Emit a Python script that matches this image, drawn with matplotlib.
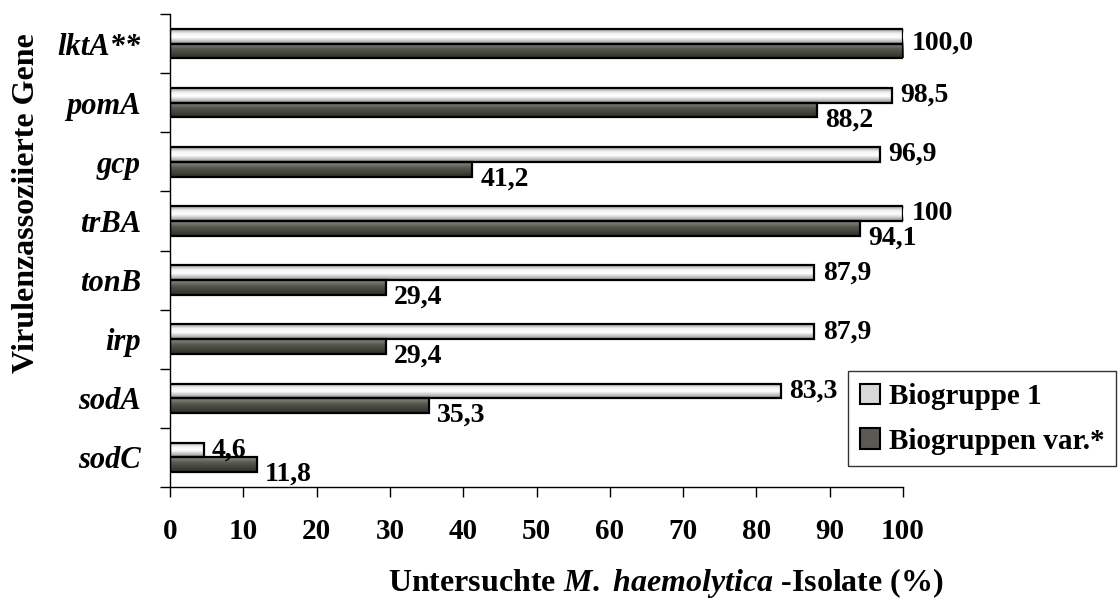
import numpy as np
import matplotlib
matplotlib.use('Agg')
import matplotlib.pyplot as plt
from matplotlib.colors import LinearSegmentedColormap
from matplotlib.patches import Patch
from matplotlib.transforms import offset_copy

# Gene prevalence per biogroup (top to bottom)
genes = ['lktA**', 'pomA', 'gcp', 'trBA', 'tonB', 'irp', 'sodA', 'sodC']
biogroup1 = [100.0, 98.5, 96.9, 100.0, 87.9, 87.9, 83.3, 4.6]
biogroup_var = [100.0, 88.2, 41.2, 94.1, 29.4, 29.4, 35.3, 11.8]
labels1 = ['100,0', '98,5', '96,9', '100', '87,9', '87,9', '83,3', '4,6']
labels_var = ['', '88,2', '41,2', '94,1', '29,4', '29,4', '35,3', '11,8']
xticks = list(range(0, 101, 10))

plt.rcParams['font.family'] = 'Liberation Serif'
plt.rcParams['font.weight'] = 'bold'
plt.rcParams['mathtext.fontset'] = 'custom'
plt.rcParams['mathtext.it'] = 'Liberation Serif:italic:bold'
plt.rcParams['mathtext.rm'] = 'Liberation Serif:bold'

fig = plt.figure(figsize=(11.2, 6.04), dpi=100)
ax = fig.add_axes([0.1518, 0.1937, 0.6545, 0.7831])

n = len(genes)
ypos = np.arange(n)[::-1]
h = 0.25

bars1 = ax.barh(ypos + h / 2, biogroup1, height=h, facecolor='none',
                edgecolor='black', linewidth=1.6, zorder=3)
bars2 = ax.barh(ypos - h / 2, biogroup_var, height=h, facecolor='none',
                edgecolor='black', linewidth=1.6, zorder=3)

# shaded fill, rows run top -> bottom of each bar
cm_light = LinearSegmentedColormap.from_list(
    'light', [(0, '#9c9c9c'), (0.3, '#f4f4f4'), (0.55, '#ffffff'), (1, '#8e8e8e')])
cm_dark = LinearSegmentedColormap.from_list(
    'dark', [(0, '#8a8a86'), (0.4, '#56564e'), (1, '#2e2e26')])
grad = np.linspace(0, 1, 64).reshape(-1, 1)
for bars, cm in ((bars1, cm_light), (bars2, cm_dark)):
    for p in bars:
        x0, y0 = p.get_x(), p.get_y()
        ax.imshow(grad, cmap=cm, aspect='auto', zorder=2, interpolation='bilinear',
                  extent=[x0, x0 + p.get_width(), y0, y0 + p.get_height()])

ax.set_xlim(0, 100)
ax.set_ylim(-0.5, n - 0.5)

# value labels
tr_light = offset_copy(ax.transData, fig=fig, x=6, y=0, units='points')
tr_dark = offset_copy(ax.transData, fig=fig, x=6, y=-7, units='points')
for y, v1, v2, l1, l2 in zip(ypos, biogroup1, biogroup_var, labels1, labels_var):
    if l2:
        ax.text(v1, y + h / 2, l1, transform=tr_light, ha='left', va='center',
                fontsize=20, fontweight='bold')
        ax.text(v2, y - h / 2, l2, transform=tr_dark, ha='left', va='center',
                fontsize=20, fontweight='bold')
    else:
        ax.text(v1, y, l1, transform=tr_light, ha='left', va='center',
                fontsize=20, fontweight='bold')

ax.spines['top'].set_visible(False)
ax.spines['right'].set_visible(False)
ax.spines['left'].set_linewidth(1.0)
ax.spines['bottom'].set_linewidth(1.0)

ax.set_xticks(xticks)
ax.set_xticklabels([str(t) for t in xticks], fontsize=21, fontweight='bold')
ax.tick_params(axis='x', length=7, width=1, pad=15)

ax.set_yticks(ypos)
ax.set_yticklabels(genes, fontsize=22, fontweight='bold', fontstyle='italic')
ax.set_yticks(np.arange(-0.5, n, 1.0), minor=True)
ax.tick_params(axis='y', which='major', length=0, pad=21)
ax.tick_params(axis='y', which='minor', length=7, width=1)

# axis titles
fig.text(388 / 1120, 1 - 583 / 604, r'Untersuchte $M.$ $haemolytica$ -Isolate (%)',
         fontsize=23, fontweight='bold', ha='left', va='center')
fig.text(27 / 1120, 1 - 203 / 604, 'Virulenzassoziierte Gene', rotation=90,
         fontsize=23, fontweight='bold', ha='center', va='center')

handles = [Patch(facecolor='#d8d8d8', edgecolor='black', linewidth=1.5, label='Biogruppe 1'),
           Patch(facecolor='#5a5a52', edgecolor='black', linewidth=1.5, label='Biogruppen var.*')]
leg = fig.legend(handles=handles, loc='upper left', bbox_to_anchor=(0.757, 0.385),
                 frameon=True, fancybox=False, prop={'weight': 'bold', 'size': 21},
                 handlelength=0.7, handleheight=0.7, handletextpad=0.3,
                 borderpad=0.4, labelspacing=0.6, borderaxespad=0)
leg.get_frame().set_edgecolor('black')
leg.get_frame().set_linewidth(1.0)

fig.savefig('out.png', dpi=100)
